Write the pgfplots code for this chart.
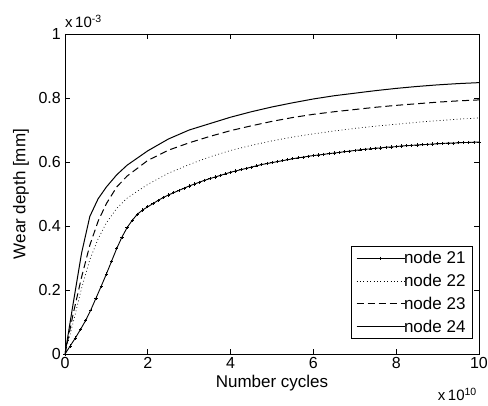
\documentclass[border=0pt]{standalone}
\usepackage{fontspec}
\setmainfont{Liberation Sans}
\usepackage{pgfplots}
\pgfplotsset{compat=1.18}

\begin{document}
\begin{tikzpicture}[font=\fontsize{17}{20}\selectfont]
\begin{axis}[
    scale only axis,
    width=414pt, height=320pt,
    xmin=0, xmax=10, ymin=0, ymax=1,
    xtick={0,2,...,10}, ytick={0,0.2,...,1},
    yticklabel style={/pgf/number format/fixed, /pgf/number format/precision=1, inner sep=2pt, xshift=-2pt},
    xticklabel style={inner sep=2pt, yshift=-1pt},
    ticklabel style={font=\fontsize{16}{18}\selectfont},
    /pgf/number format/assume math mode=true,
    tick align=inside, major tick length=5pt,
    tick style={black, line width=0.6pt},
    axis line style={line width=0.8pt},
    xlabel={Number cycles}, ylabel={Wear depth [mm]},
    label style={font=\fontsize{17}{20}\selectfont},
    xlabel style={yshift=-1pt}, ylabel style={yshift=4pt},
    legend style={at={(rel axis cs:0.985,0.047)}, anchor=south east,
        draw=black, line width=0.6pt, inner xsep=5pt, inner ysep=3pt, row sep=5pt,
        font=\fontsize{17}{20}\selectfont, cells={anchor=west},
        /tikz/every odd column/.append style={column sep=-3pt}},
    legend cell align=left,
    legend image code/.code={
        \draw[#1, mark=none] (-4pt,0pt) -- (44pt,0pt);
        \draw[#1, only marks] plot coordinates {(20pt,0pt)};},
    clip=true,
]
\addplot[black, line width=0.9pt, mark=+, mark size=1.6pt, mark options={solid, line width=0.6pt}] coordinates {
    (0,0) (0.125,0.025) (0.25,0.05) (0.375,0.077) (0.5,0.105) (0.625,0.138) (0.75,0.175)
    (0.875,0.212) (1,0.25) (1.125,0.29) (1.25,0.33) (1.375,0.365) (1.5,0.395)
    (1.625,0.418) (1.75,0.437) (1.875,0.45) (2,0.46) (2.125,0.47) (2.25,0.48) (2.375,0.489) (2.5,0.497)
    (2.625,0.504) (2.75,0.511) (2.875,0.518) (3,0.525) (3.125,0.531) (3.25,0.537) (3.375,0.543) (3.5,0.548)
    (3.625,0.553) (3.75,0.558) (3.875,0.563) (4,0.568) (4.125,0.572) (4.25,0.576) (4.375,0.58) (4.5,0.584)
    (4.625,0.588) (4.75,0.592) (4.875,0.595) (5,0.598) (5.125,0.601) (5.25,0.604) (5.375,0.607) (5.5,0.610)
    (5.625,0.613) (5.75,0.615) (5.875,0.618) (6,0.620) (6.125,0.622) (6.25,0.624) (6.375,0.626) (6.5,0.628)
    (6.625,0.630) (6.75,0.632) (6.875,0.634) (7,0.636) (7.125,0.638) (7.25,0.640) (7.375,0.641) (7.5,0.643)
    (7.625,0.644) (7.75,0.646) (7.875,0.647) (8,0.648) (8.125,0.650) (8.25,0.651) (8.375,0.652) (8.5,0.653)
    (8.625,0.654) (8.75,0.655) (8.875,0.656) (9,0.657) (9.125,0.658) (9.25,0.659) (9.375,0.659) (9.5,0.660)
    (9.625,0.661) (9.75,0.661) (9.875,0.662) (10,0.6625)
};
\addlegendentry{node 21}
\addplot[black, line width=0.7pt, dash pattern=on 0.8pt off 2.6pt] coordinates {
    (0,0) (0.2,0.10) (0.4,0.205) (0.6,0.295) (0.8,0.36) (1,0.41) (1.25,0.455)
    (1.5,0.487) (2,0.53) (2.5,0.565) (3,0.592) (3.5,0.616) (4,0.636) (4.5,0.652)
    (5,0.666) (5.5,0.678) (6,0.688) (6.5,0.697) (7,0.705) (7.5,0.712) (8,0.718)
    (8.5,0.724) (9,0.729) (9.5,0.734) (10,0.7375)
};
\addlegendentry{node 22}
\addplot[black, line width=1pt, dash pattern=on 7pt off 4pt] coordinates {
    (0,0) (0.2,0.127) (0.4,0.24) (0.6,0.34) (0.8,0.415) (1,0.47) (1.25,0.522)
    (1.5,0.556) (2,0.605) (2.5,0.637) (3,0.66) (3.5,0.68) (4,0.698) (4.5,0.713)
    (5,0.727) (5.5,0.739) (6,0.749) (6.5,0.757) (7,0.764) (7.5,0.771) (8,0.777)
    (8.5,0.782) (9,0.787) (9.5,0.791) (10,0.794)
};
\addlegendentry{node 23}
\addplot[black, line width=1pt] coordinates {
    (0,0) (0.2,0.16) (0.4,0.315) (0.6,0.43) (0.8,0.485) (1,0.522) (1.25,0.56)
    (1.5,0.59) (2,0.635) (2.5,0.672) (3,0.70) (3.5,0.72) (4,0.74) (4.5,0.757)
    (5,0.772) (5.5,0.785) (6,0.797) (6.5,0.807) (7,0.815) (7.5,0.823) (8,0.83)
    (8.5,0.836) (9,0.841) (9.5,0.845) (10,0.848)
};
\addlegendentry{node 24}
\end{axis}
\node[anchor=south west, inner sep=0pt, font=\fontsize{15}{18}\selectfont] at ([yshift=6pt]current axis.north west) {x\,10\textsuperscript{-3}};
\node[anchor=north east, inner sep=0pt, font=\fontsize{15}{18}\selectfont] at ([xshift=-2pt,yshift=-34pt]current axis.south east) {x\,10\textsuperscript{10}};
\pgfresetboundingbox
\path ([xshift=-65pt,yshift=-52pt]current axis.south west) rectangle ([xshift=9pt,yshift=34pt]current axis.north east);
\end{tikzpicture}
\end{document}
